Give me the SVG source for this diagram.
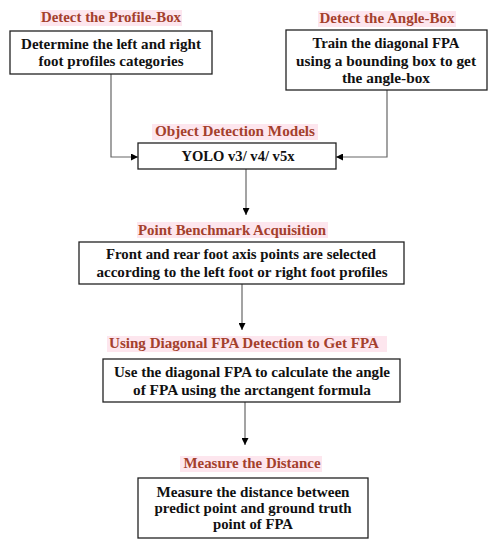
<svg xmlns="http://www.w3.org/2000/svg" width="498" height="550" viewBox="0 0 498 550">
<defs>
<marker id="ah" viewBox="0 0 10 10" refX="10" refY="5" markerWidth="7" markerHeight="7" markerUnits="userSpaceOnUse" orient="auto">
<path d="M0,0 L10,5 L0,10 z" fill="#000"/>
</marker>
<style>
.box{fill:#fff;stroke:#222;stroke-width:1.3}
.t{font-family:"Liberation Serif","Times New Roman",serif;font-weight:bold;font-size:15.5px;fill:#111;text-anchor:middle}
.h{font-family:"Liberation Serif","Times New Roman",serif;font-weight:bold;font-size:15px;fill:#a4402c;text-anchor:middle}
.hl{fill:#fde6ee}
.c{fill:none;stroke:#666;stroke-width:1.2;marker-end:url(#ah)}
</style>
</defs>
<rect width="498" height="550" fill="#fff"/>
<g id="connectors">
<path class="c" d="M111,74 V157 H138"/>
<path class="c" d="M387,90 V157 H336"/>
<path class="c" d="M246,169 V215"/>
<path class="c" d="M242,284 V330"/>
<path class="c" d="M245,402 V445"/>
</g>
<g id="profile-box">
<rect class="hl" x="40" y="10" width="142" height="16"/>
<text class="h" x="111" y="22" textLength="140" lengthAdjust="spacingAndGlyphs">Detect the Profile-Box</text>
<rect class="box" x="10" y="31" width="202" height="43"/>
<text class="t" x="111" y="49" textLength="180" lengthAdjust="spacingAndGlyphs">Determine the left and right</text>
<text class="t" x="111" y="66" textLength="145" lengthAdjust="spacingAndGlyphs">foot profiles categories</text>
</g>
<g id="angle-box">
<rect class="hl" x="318" y="11" width="138" height="16"/>
<text class="h" x="387" y="23" textLength="135" lengthAdjust="spacingAndGlyphs">Detect the Angle-Box</text>
<rect class="box" x="286" y="30" width="201" height="60"/>
<text class="t" x="386" y="48" textLength="147" lengthAdjust="spacingAndGlyphs">Train the diagonal FPA</text>
<text class="t" x="386" y="66" textLength="180" lengthAdjust="spacingAndGlyphs">using a bounding box to get</text>
<text class="t" x="386" y="83" textLength="88" lengthAdjust="spacingAndGlyphs">the angle-box</text>
</g>
<g id="yolo">
<rect class="hl" x="152" y="124" width="166" height="16"/>
<text class="h" x="235" y="136" textLength="160" lengthAdjust="spacingAndGlyphs">Object Detection Models</text>
<rect class="box" x="138" y="143" width="198" height="26"/>
<text class="t" x="238" y="161" textLength="113" lengthAdjust="spacingAndGlyphs">YOLO v3/ v4/ v5x</text>
</g>
<g id="benchmark">
<rect class="hl" x="137" y="222" width="191" height="16"/>
<text class="h" x="232" y="235" textLength="188" lengthAdjust="spacingAndGlyphs">Point Benchmark Acquisition</text>
<rect class="box" x="79" y="242" width="325" height="42"/>
<text class="t" x="241" y="259" textLength="270" lengthAdjust="spacingAndGlyphs">Front and rear foot axis points are selected</text>
<text class="t" x="242" y="277" textLength="291" lengthAdjust="spacingAndGlyphs">according to the left foot or right foot profiles</text>
</g>
<g id="fpa">
<rect class="hl" x="107" y="336" width="280" height="16"/>
<text class="h" x="244" y="348" textLength="270" lengthAdjust="spacingAndGlyphs">Using Diagonal FPA Detection to Get FPA</text>
<rect class="box" x="103" y="359" width="297" height="43"/>
<text class="t" x="252" y="377" textLength="276" lengthAdjust="spacingAndGlyphs">Use the diagonal FPA to calculate the angle</text>
<text class="t" x="252" y="395" textLength="238" lengthAdjust="spacingAndGlyphs">of FPA using the arctangent formula</text>
</g>
<g id="distance">
<rect class="hl" x="180" y="456" width="142" height="16"/>
<text class="h" x="252" y="468" textLength="137" lengthAdjust="spacingAndGlyphs">Measure the Distance</text>
<rect class="box" x="138" y="478" width="230" height="60"/>
<text class="t" x="253" y="497" textLength="193" lengthAdjust="spacingAndGlyphs">Measure the distance between</text>
<text class="t" x="253" y="513" textLength="197" lengthAdjust="spacingAndGlyphs">predict point and ground truth</text>
<text class="t" x="253" y="529" textLength="80" lengthAdjust="spacingAndGlyphs">point of FPA</text>
</g>
</svg>
